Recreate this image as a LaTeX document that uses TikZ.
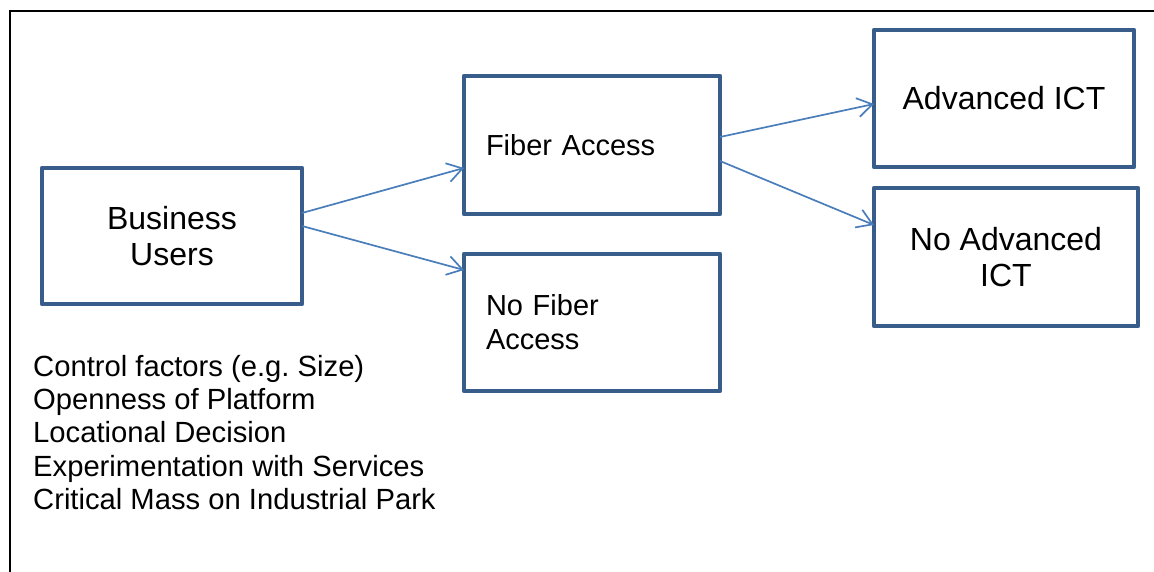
\documentclass[tikz,border=0pt]{standalone}
\usepackage{fontspec}
\setmainfont{Liberation Sans}
\usetikzlibrary{arrows.meta}
\frenchspacing

\definecolor{boxline}{HTML}{385D8A}
\definecolor{linkline}{HTML}{4A7EBB}

\tikzset{
  stage/.style={draw=boxline, line width=4.7pt, line join=round, rectangle,
    inner sep=0pt, outer sep=0pt, align=center,
    font=\fontsize{32}{36.7}\selectfont},
  stageleft/.style={stage, align=left, inner xsep=22pt,
    font=\fontsize{29}{34}\selectfont},
  link/.style={draw=linkline, line width=1.7pt,
    -{Straight Barb[length=15pt, width=19pt, line width=1.7pt]}},
  frame/.style={draw=black, line width=2.2pt},
  factors/.style={align=left, inner sep=0pt, anchor=north west,
    font=\fontsize{29.2}{33.3}\selectfont}
}

\begin{document}
\begin{tikzpicture}[x=1pt, y=-1pt]
  \useasboundingbox (0,0) rectangle (1154,572);

  % open frame: left and top edges only
  \draw[frame] (10,572) -- (10,11) -- (1154,11);

  % stages
  \node[stage, minimum width=260pt, minimum height=136pt] (bu) at (172,236) {Business\\Users};
  \node[stageleft, text width=212pt, minimum height=138pt] (fa) at (592,145) {Fiber Access};
  \node[stageleft, text width=212pt, minimum height=137pt] (nf) at (592,322.5) {No Fiber\\Access};
  \node[stage, minimum width=260pt, minimum height=137pt] (ai) at (1004,98.5) {Advanced ICT};
  \node[stage, minimum width=264pt, minimum height=138pt] (na) at (1006,257) {No Advanced\\ICT};

  % factors list
  \node[factors] (cf) at (33,355) {Control factors (e.g. Size)\\Openness of Platform\\Locational Decision\\Experimentation with Services\\Critical Mass on Industrial Park};

  % transitions
  \draw[link] ([yshift=23pt]bu.east) -- ([yshift=-23pt]fa.west);
  \draw[link] ([yshift=10pt]bu.east) -- ([yshift=52.5pt]nf.west);
  \draw[link] ([yshift=8pt]fa.east) -- ([yshift=-5.5pt]ai.west);
  \draw[link] ([yshift=-16pt]fa.east) -- ([yshift=32pt]na.west);
\end{tikzpicture}
\end{document}
